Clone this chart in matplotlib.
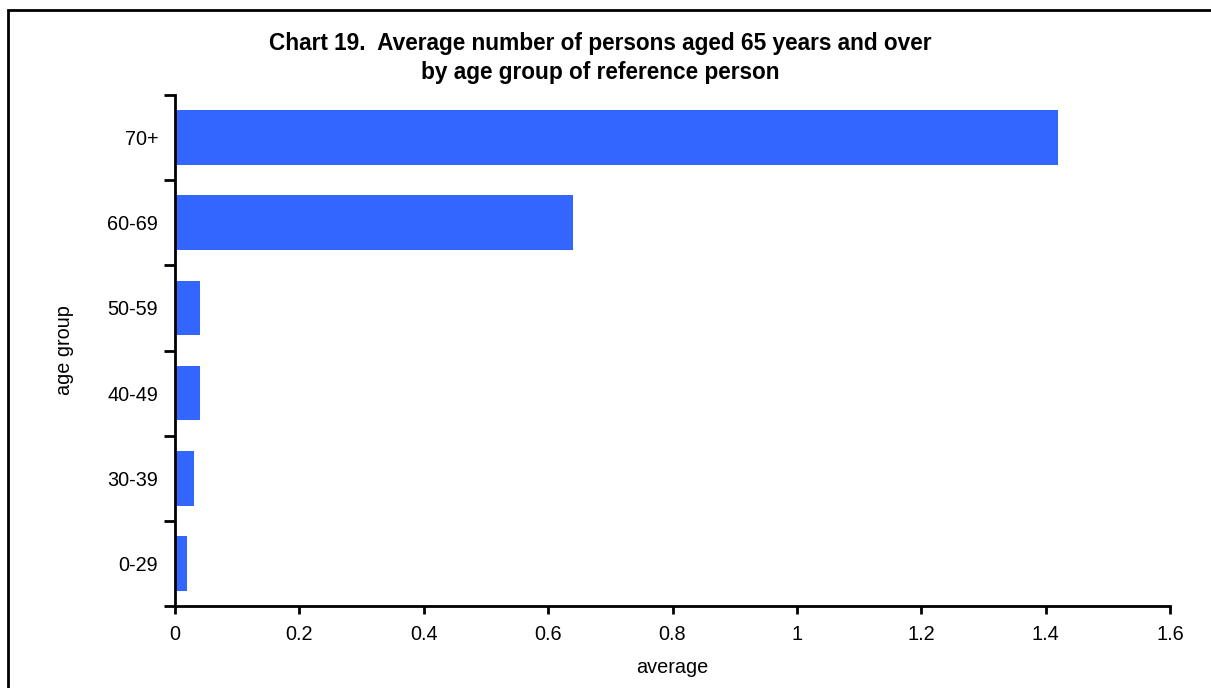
import matplotlib.pyplot as plt
import numpy as np
from matplotlib.patches import Rectangle

plt.rcParams['font.family'] = ['Liberation Sans', 'DejaVu Sans']

age_groups = ['0-29', '30-39', '40-49', '50-59', '60-69', '70+']
averages = [0.02, 0.03, 0.04, 0.04, 0.64, 1.42]
x_ticks = [0, 0.2, 0.4, 0.6, 0.8, 1, 1.2, 1.4, 1.6]
x_labels = ['0', '0.2', '0.4', '0.6', '0.8', '1', '1.2', '1.4', '1.6']

fig = plt.figure(figsize=(12.11, 6.88), dpi=100)
ax = fig.add_axes([175 / 1211, 1 - 606 / 688, 995 / 1211, 511 / 688])

pos = np.arange(len(age_groups))
ax.barh(pos, averages, height=0.64, color='#3366FF')

ax.set_xlim(0, 1.6)
ax.set_ylim(-0.5, len(age_groups) - 0.5)
ax.set_xticks(x_ticks)
ax.set_xticklabels(x_labels)

# ticks between categories, labels at bar centres
ax.set_yticks(np.arange(-0.5, len(age_groups), 1.0))
ax.set_yticklabels([])
ax.set_yticks(pos, minor=True)
ax.set_yticklabels(age_groups, minor=True)
ax.tick_params(axis='y', which='major', direction='out', length=8, width=2)
ax.tick_params(axis='y', which='minor', length=0, pad=12, labelsize=14.3)
ax.tick_params(axis='x', direction='out', length=6, width=2, pad=8, labelsize=14.3)

for s in ['top', 'right']:
    ax.spines[s].set_visible(False)
for s in ['left', 'bottom']:
    ax.spines[s].set_linewidth(2)

ax.set_xlabel('average', fontsize=14.3, labelpad=10)
ax.set_ylabel('age group', fontsize=14.3, labelpad=24)

fig.text(600 / 1211, 1 - 58 / 688,
         'Chart 19.  Average number of persons aged 65 years and over\nby age group of reference person',
         ha='center', va='center', fontsize=16.3, fontweight='bold', linespacing=1.3)

# frame around the whole chart
fig.patches.append(Rectangle((8 / 1211, -0.05), 1.1, 1 - 10 / 688 + 0.05,
                             transform=fig.transFigure, fill=False,
                             edgecolor='black', linewidth=2))

fig.savefig('out.png', dpi=100)
